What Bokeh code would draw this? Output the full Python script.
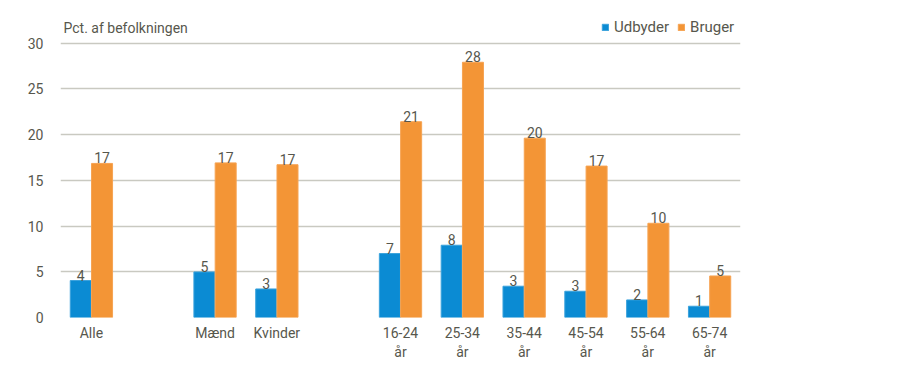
from bokeh.plotting import figure
from bokeh.models import ColumnDataSource, FactorRange, Range1d, LabelSet, Label, Legend, LegendItem, FixedTicker
from bokeh.transform import dodge
from bokeh.core.properties import value
from bokeh.embed import file_html
from bokeh.resources import INLINE

# ---- data ----
axis_factors = ["Alle", " ", "Mænd", "Kvinder", "  ", "16-24\når", "25-34\når",
                "35-44\når", "45-54\når", "55-64\når", "65-74\når"]
categories = ["Alle", "Mænd", "Kvinder", "16-24\når", "25-34\når",
              "35-44\når", "45-54\når", "55-64\når", "65-74\når"]
udbyder = [4.04, 4.98, 3.12, 6.99, 7.9, 3.42, 2.87, 1.92, 1.23]
bruger = [16.84, 16.9, 16.7, 21.4, 27.9, 19.6, 16.55, 10.3, 4.54]
y_ticks = [0, 5, 10, 15, 20, 25, 30]

BLUE = "#0B8BD3"
ORANGE = "#F39536"
TXT = "#57574d"
GRID = "#c9c9c1"
FONT = "Roboto"

src = ColumnDataSource(dict(
    cat=categories,
    udb=udbyder,
    bru=bruger,
    udb_lbl=[str(int(round(v))) for v in udbyder],
    bru_lbl=[str(int(round(v))) for v in bruger],
))

p = figure(width=900, height=377, x_range=FactorRange(*axis_factors, range_padding=0),
           y_range=Range1d(0, 34.65), output_backend="svg", toolbar_location=None,
           min_border_left=60, min_border_right=160, min_border_top=0, min_border_bottom=60)
p.outline_line_color = None
p.background_fill_color = "white"
p.border_fill_color = "white"

w = 0.34
r1 = p.vbar(x=dodge("cat", -0.172, range=p.x_range), top="udb", width=w, source=src,
            fill_color=BLUE, line_color="#3aa2dc", line_width=1)
r2 = p.vbar(x=dodge("cat", 0.172, range=p.x_range), top="bru", width=w, source=src,
            fill_color=ORANGE, line_color="#f6a352", line_width=1)

for col, lbl, off in (("udb", "udb_lbl", -0.172), ("bru", "bru_lbl", 0.172)):
    ls = LabelSet(x=dodge("cat", off, range=p.x_range), y=col, text=lbl, source=src,
                  text_align="center", text_baseline="bottom", y_offset=0,
                  text_color=TXT, text_font=value(FONT), text_font_size="14px")
    p.add_layout(ls)

# axes
p.yaxis.ticker = FixedTicker(ticks=y_ticks)
p.yaxis.axis_line_color = None
p.yaxis.major_tick_line_color = None
p.yaxis.minor_tick_line_color = None
p.yaxis.major_label_text_font = FONT
p.yaxis.major_label_text_font_size = "14px"
p.yaxis.major_label_text_color = TXT
p.yaxis.major_label_standoff = 11

p.xaxis.axis_line_color = None
p.xaxis.major_tick_line_color = None
p.xaxis.minor_tick_line_color = None
p.xaxis.major_label_text_font = FONT
p.xaxis.major_label_text_font_size = "14px"
p.xaxis.major_label_text_color = TXT
p.xaxis.major_label_standoff = 1

p.xgrid.grid_line_color = None
p.ygrid.grid_line_color = GRID
p.ygrid.grid_line_width = 1.5

# title
p.add_layout(Label(x=0, y=30, x_offset=3, y_offset=7, text="Pct. af befolkningen",
                   text_font=FONT, text_font_size="14px", text_color=TXT,
                   text_baseline="bottom"))

legend = Legend(items=[LegendItem(label="Udbyder", renderers=[r1]),
                       LegendItem(label="Bruger", renderers=[r2])],
                orientation="horizontal", location=(541, 281),
                glyph_width=8, glyph_height=8, label_standoff=5, spacing=8,
                padding=2, margin=0, border_line_color=None, background_fill_alpha=0,
                label_text_font=FONT, label_text_font_size="15px", label_text_color=TXT)
p.add_layout(legend)

open("out.html", "w").write(file_html(p, INLINE))
